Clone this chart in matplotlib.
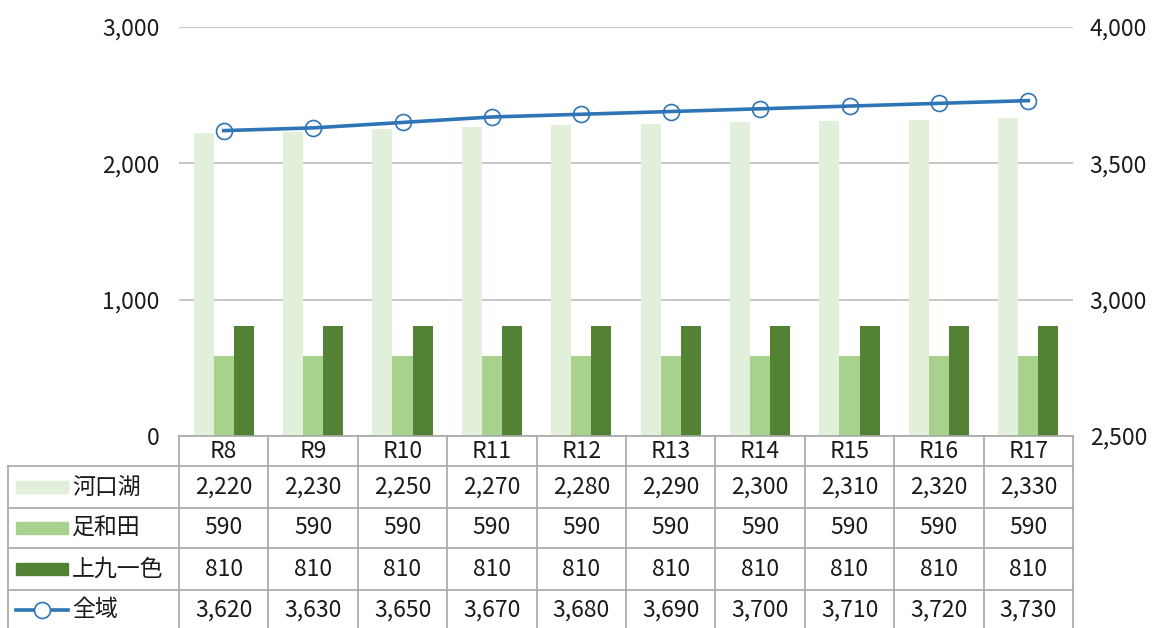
import numpy as np
import matplotlib.pyplot as plt
from matplotlib.patches import Rectangle
from matplotlib.lines import Line2D

plt.rcParams['font.family'] = ['Noto Sans CJK JP', 'DejaVu Sans']

# データ
categories = ['R8', 'R9', 'R10', 'R11', 'R12', 'R13', 'R14', 'R15', 'R16', 'R17']
kawaguchiko = [2220, 2230, 2250, 2270, 2280, 2290, 2300, 2310, 2320, 2330]
ashiwada = [590, 590, 590, 590, 590, 590, 590, 590, 590, 590]
kamikuisshiki = [810, 810, 810, 810, 810, 810, 810, 810, 810, 810]
zeniki = [3620, 3630, 3650, 3670, 3680, 3690, 3700, 3710, 3720, 3730]

series_names = ['河口湖', '足和田', '上九一色', '全域']
c_light = '#E2EFDA'
c_mid = '#A9D18E'
c_dark = '#548235'
c_line = '#2E75B6'
grid_c = '#BFBFBF'
tab_c = '#A6A6A6'
txt_c = '#1A1A1A'

W, H = 1158, 628
fig = plt.figure(figsize=(W / 100, H / 100), dpi=100)

# 描画領域 (ピクセル)
x0, x1 = 179, 1073
y_top, y_bot = 27, 436
ax = fig.add_axes([x0 / W, 1 - y_bot / H, (x1 - x0) / W, (y_bot - y_top) / H])
n = len(categories)
x = np.arange(n)
bw = 0.224
ax.bar(x - bw, kawaguchiko, bw, color=c_light, zorder=2)
ax.bar(x, ashiwada, bw, color=c_mid, zorder=2)
ax.bar(x + bw, kamikuisshiki, bw, color=c_dark, zorder=2)
ax.set_xlim(-0.5, n - 0.5)
ax.set_ylim(0, 3000)
ax.set_yticks([0, 1000, 2000, 3000])
ax.set_yticklabels(['0', '1,000', '2,000', '3,000'])
ax.yaxis.grid(True, color=grid_c, linewidth=1.2, zorder=0)
ax.set_axisbelow(True)
ax.set_xticks([])
for s in ax.spines.values():
    s.set_visible(False)
fs = 16.5
ax.tick_params(axis='y', length=0, pad=14, labelsize=fs, labelcolor=txt_c)
ax.patch.set_alpha(0)

ax2 = ax.twinx()
ax2.plot(x, zeniki, color=c_line, linewidth=2.6, marker='o', markersize=11.5,
         markerfacecolor='none', markeredgecolor=c_line, markeredgewidth=1.2, zorder=3)
ax2.set_ylim(2500, 4000)
ax2.set_yticks([2500, 3000, 3500, 4000])
ax2.set_yticklabels(['2,500', '3,000', '3,500', '4,000'])
for s in ax2.spines.values():
    s.set_visible(False)
ax2.tick_params(axis='y', length=0, pad=12, labelsize=fs, labelcolor=txt_c)

# データテーブル
tab = fig.add_axes([0, 0, 1, 1])
tab.set_xlim(0, W)
tab.set_ylim(H, 0)
tab.axis('off')
tab.patch.set_alpha(0)

col_w = (x1 - x0) / n
rows_y = [436, 466, 508, 548, 590, 630]
xl = 8
lw = 1.2
# 横線
tab.add_line(Line2D([x0, x1], [rows_y[0]] * 2, color=tab_c, lw=lw))
for yy in rows_y[1:]:
    tab.add_line(Line2D([xl, x1], [yy] * 2, color=tab_c, lw=lw))
# 縦線
tab.add_line(Line2D([xl, xl], [rows_y[1], rows_y[-1]], color=tab_c, lw=lw))
for i in range(n + 1):
    xx = x0 + i * col_w
    tab.add_line(Line2D([xx, xx], [rows_y[0], rows_y[-1]], color=tab_c, lw=lw))

for i, cat in enumerate(categories):
    cx = x0 + (i + 0.5) * col_w
    tab.text(cx, (rows_y[0] + rows_y[1]) / 2, cat, ha='center', va='center',
             fontsize=fs, color=txt_c)

table_rows = [kawaguchiko, ashiwada, kamikuisshiki, zeniki]
for r, vals in enumerate(table_rows):
    cy = (rows_y[r + 1] + rows_y[r + 2]) / 2
    for i, v in enumerate(vals):
        cx = x0 + (i + 0.5) * col_w
        tab.text(cx, cy, f'{v:,}', ha='center', va='center', fontsize=fs, color=txt_c)
    tab.text(72, cy, series_names[r], ha='left', va='center', fontsize=fs, color=txt_c)

# 凡例キー
key_colors = [c_light, c_mid, c_dark]
for r in range(3):
    cy = (rows_y[r + 1] + rows_y[r + 2]) / 2
    tab.add_patch(Rectangle((16, cy - 6), 52, 12, color=key_colors[r]))
cy = (rows_y[4] + rows_y[5]) / 2
tab.add_line(Line2D([16, 68], [cy, cy], color=c_line, lw=2.6))
tab.add_line(Line2D([42], [cy], color=c_line, marker='o', markersize=11.5,
                    markerfacecolor='white', markeredgewidth=1.2))

fig.savefig('out.png', dpi=100)
